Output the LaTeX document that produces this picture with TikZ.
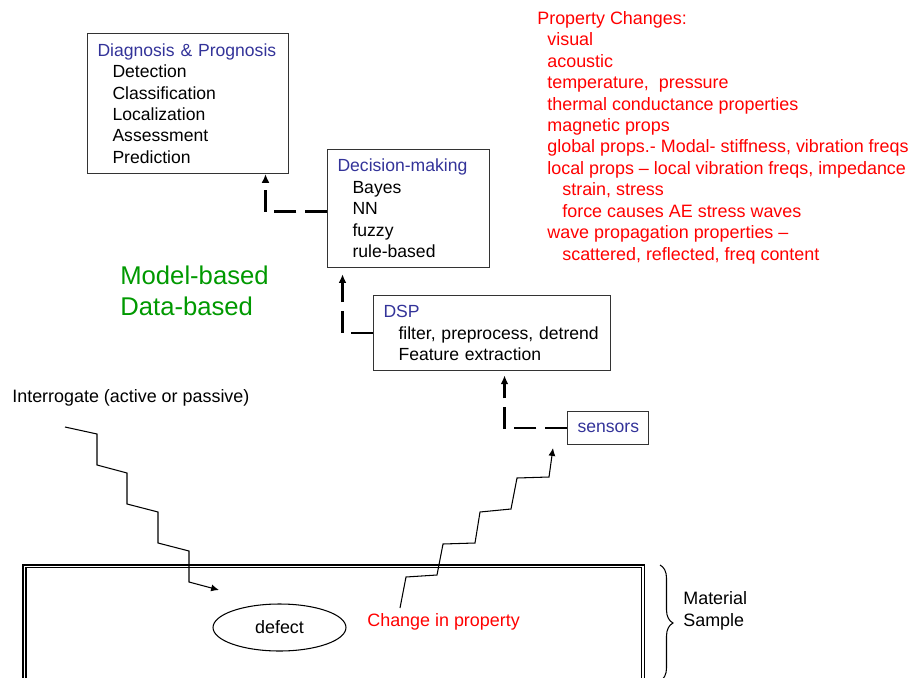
\documentclass[tikz,border=0pt]{standalone}
\usepackage{fontspec}
\setmainfont{Liberation Sans}
\usepackage{xcolor}
\definecolor{headblue}{RGB}{51,51,153}
\definecolor{modelgreen}{RGB}{0,153,0}
\usepackage{tikz}
\usetikzlibrary{
  shapes.geometric,
  arrows.meta,
  calc,
  decorations.pathreplacing
}
\newcommand{\hdr}[1]{\textcolor{headblue}{#1}}
\newcommand{\ind}{\hspace*{0.3cm}}
\newcommand{\panelfont}{\fontsize{10}{12.2}\selectfont}
\newcommand{\bodyfont}{\fontsize{10.2}{12.2}\selectfont}

\begin{document}
\begin{tikzpicture}[
  x=0.02cm, y=-0.02cm,
  panel/.style={rectangle, draw=black!80, line width=0.6pt, anchor=north west, inner xsep=0.2cm, inner ysep=0pt, align=left, font=\panelfont},
  flow/.style={-{Latex[length=5pt,width=4.5pt]}, line width=1.5pt, dash pattern=on 12.5pt off 5pt},
  wave/.style={-{Latex[length=4.5pt,width=4pt]}, line width=0.6pt},
  lbl/.style={inner sep=0pt, font=\bodyfont, align=left},
  rim/.style={line width=0.6pt}
]
  \useasboundingbox (0,0) rectangle (911,678);

  \node[panel, text width=3.62cm, minimum height=2.8cm] (diag) at (87,33) {\hdr{Diagnosis \& Prognosis}\\ \ind Detection\\ \ind Classification\\ \ind Localization\\ \ind Assessment\\ \ind Prediction};

  \node[panel, text width=2.84cm, minimum height=2.36cm] (decision) at (327,149) {\hdr{Decision-making}\\ \ind Bayes\\ \ind NN\\ \ind fuzzy\\ \ind rule-based};

  \node[panel, text width=4.34cm, minimum height=1.5cm] (dsp) at (373,295) {\hdr{DSP}\\ \ind filter, preprocess, detrend\\ \ind Feature extraction};

  \node[panel, align=center, text width=1.22cm, minimum height=0.66cm] (sensors) at (567,411) {\hdr{sensors}};

  \node[lbl, text=red, anchor=north west] (changes) at (537,11) {Property Changes:\\
    \hspace*{0.2cm}visual\\
    \hspace*{0.2cm}acoustic\\
    \hspace*{0.2cm}temperature,\ \ pressure\\
    \hspace*{0.2cm}thermal conductance properties\\
    \hspace*{0.2cm}magnetic props\\
    \hspace*{0.2cm}global props.- Modal- stiffness, vibration freqs\\
    \hspace*{0.2cm}local props -- local vibration freqs, impedance\\
    \hspace*{0.5cm}strain, stress\\
    \hspace*{0.5cm}force causes AE stress waves\\
    \hspace*{0.2cm}wave propagation properties --\\
    \hspace*{0.5cm}scattered, reflected, freq content};

  \node[lbl, text=modelgreen, font=\fontsize{14.6}{17.5}\selectfont, anchor=north west] (approach) at (120,266) {Model-based\\Data-based};

  \node[lbl, anchor=west] (interrogate) at (12,398) {Interrogate (active or passive)};

  \draw[flow, shorten >=2.5pt] (sensors.west) -| ($(dsp.south)+(12.5,0)$);
  \draw[flow, shorten >=3.5pt] (dsp.west) -| ($(decision.south)+(-66,0)$);
  \draw[flow] ([yshift=-0.06cm]decision.west) -| ($(diag.south)+(77.5,0)$);

  \draw[rim] (23,690) -- (23,565) -- (644.5,565) -- (644.5,690);
  \draw[rim] (26,690) -- (26,567.5) -- (641.5,567.5) -- (641.5,690);

  \node[draw, ellipse, line width=0.6pt, minimum width=2.66cm, minimum height=0.94cm, font=\bodyfont] (defect) at (279.5,627.5) {defect};
  \node[lbl, text=red, anchor=west] (change) at (367,622) {Change in property};

  \coordinate (probe) at (65,427);
  \draw[wave] (probe) -- ++(32,7) -- ++(0,31) -- ++(30,8) -- ++(0,31) -- ++(31,8) -- ++(0,31) -- ++(31,8) -- ++(0,31) -- ++(30,8);

  \coordinate (emit) at (400,608);
  \draw[wave] (emit) -- ++(6,-31) -- ++(31,-2) -- ++(6,-31) -- ++(32,-1) -- ++(5,-31) -- ++(31,-3) -- ++(6,-31) -- ++(32,-1) -- ++(4,-29);

  \draw[decorate, decoration={brace, amplitude=0.26cm}, line width=0.6pt] (660,565) -- (660,681);
  \node[lbl, anchor=west] (sample) at (683,611) {Material\\Sample};
\end{tikzpicture}
\end{document}
